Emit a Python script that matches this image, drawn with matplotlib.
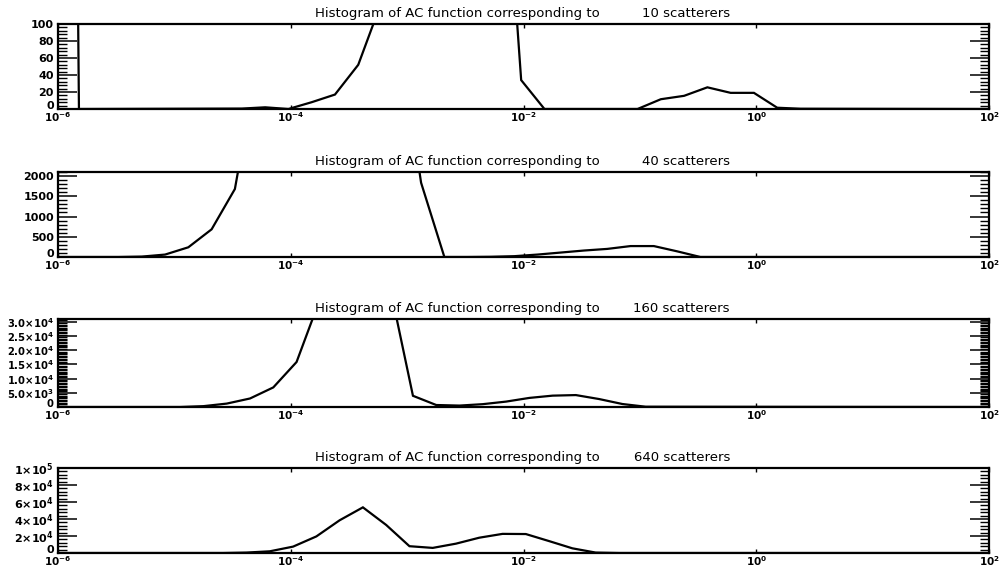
import numpy as np
import matplotlib
matplotlib.use("Agg")
import matplotlib.pyplot as plt
from matplotlib.ticker import FixedLocator, MultipleLocator, NullFormatter

# ---------------- data (log10 of AC value, histogram counts) ----------------
n_scatterers = [10, 40, 160, 640]

logx_10 = [-6.02, -5.82, -4.42, -4.22, -4.02, -3.82, -3.62, -3.42, -3.22, -3.02,
           -2.82, -2.62, -2.42, -2.22, -2.02, -1.82, -1.02, -0.82, -0.62, -0.42,
           -0.22, -0.02, 0.18, 0.38, 2.0]
counts_10 = [3000, 0, 0.5, 2, 0, 8, 17, 52, 126, 400,
             800, 1000, 900, 420, 34, 0, 0, 11.5, 15.5, 25.5,
             19, 19, 1.5, 0.3, 0]

logx_40 = [-6.0, -5.48, -5.28, -5.08, -4.88, -4.68, -4.48, -4.28, -4.08, -3.88,
           -3.68, -3.48, -3.28, -3.08, -2.88, -2.68, -2.48, -2.28, -2.08, -1.88,
           -1.68, -1.48, -1.28, -1.08, -0.88, -0.68, -0.48, 2.0]
counts_40 = [0, 0, 10, 60, 240, 684, 1680, 4900, 8000, 10000,
             11000, 10000, 8000, 5700, 1835, 0, 0, 5, 20, 60,
             110, 160, 200, 270, 270, 140, 0, 0]

logx_160 = [-6.0, -4.95, -4.75, -4.55, -4.35, -4.15, -3.95, -3.75, -3.55, -3.35,
            -3.15, -2.95, -2.75, -2.55, -2.35, -2.15, -1.95, -1.75, -1.55, -1.35,
            -1.15, -0.95, 2.0]
counts_160 = [0, 0, 300, 1200, 3000, 6900, 15850, 37900, 60000, 60000,
              42800, 3950, 700, 500, 1000, 1900, 3200, 4000, 4200, 2800,
              1050, 100, 0]

logx_640 = [-6.0, -4.58, -4.38, -4.18, -3.98, -3.78, -3.58, -3.38, -3.18, -2.98,
            -2.78, -2.58, -2.38, -2.18, -1.98, -1.78, -1.58, -1.38, -1.18, 2.0]
counts_640 = [0, 0, 500, 2000, 7500, 19500, 38500, 53700, 33000, 8000,
              6000, 11000, 18000, 22500, 22300, 14000, 5500, 500, 0, 0]

series_logx = [logx_10, logx_40, logx_160, logx_640]
series_counts = [counts_10, counts_40, counts_160, counts_640]

y_max = [100, 2100, 31000, 100000]
y_major = [20, 500, 5000, 20000]
y_minor = [4, 100, 500, 4000]
y_ticklabels = [
    ["0", "20", "40", "60", "80", "100"],
    ["0", "500", "1000", "1500", "2000"],
    ["0", r"$\mathbf{5.0{\times}10^{3}}$", r"$\mathbf{1.0{\times}10^{4}}$",
     r"$\mathbf{1.5{\times}10^{4}}$", r"$\mathbf{2.0{\times}10^{4}}$",
     r"$\mathbf{2.5{\times}10^{4}}$", r"$\mathbf{3.0{\times}10^{4}}$"],
    ["0", r"$\mathbf{2{\times}10^{4}}$", r"$\mathbf{4{\times}10^{4}}$",
     r"$\mathbf{6{\times}10^{4}}$", r"$\mathbf{8{\times}10^{4}}$",
     r"$\mathbf{1{\times}10^{5}}$"],
]
y_labelsize = [8, 8, 7.2, 8]
x_tick_exps = [-6, -4, -2, 0, 2]

# ---------------- layout ----------------
W, H = 1002, 571
fig = plt.figure(figsize=(W / 100, H / 100), dpi=100)
plt.rcParams['mathtext.fontset'] = 'dejavusans'

left_px, right_px = 58, 989
panel_px = [(24, 109), (172, 257), (319, 407), (468, 553)]

for i in range(4):
    top, bot = panel_px[i]
    ax = fig.add_axes([left_px / W, 1 - bot / H, (right_px - left_px) / W, (bot - top) / H])
    xs = [10.0 ** v for v in series_logx[i]]
    ax.plot(xs, series_counts[i], color='black', lw=1.6, solid_joinstyle='miter')
    ax.set_xscale('log')
    ax.set_xlim(1e-6, 1e2)
    ax.set_ylim(0, y_max[i])

    for s in ax.spines.values():
        s.set_linewidth(1.6)

    # x ticks
    ax.xaxis.set_major_locator(FixedLocator([10.0 ** e for e in x_tick_exps]))
    ax.set_xticklabels([r"$\mathbf{10^{%d}}$" % e for e in x_tick_exps])
    ax.xaxis.set_minor_locator(FixedLocator([]))
    ax.xaxis.set_minor_formatter(NullFormatter())
    ax.tick_params(axis='x', which='major', direction='in', length=3, width=1.0,
                   top=True, bottom=True, labelsize=7.5, pad=1)

    # y ticks
    nmaj = len(y_ticklabels[i])
    ax.yaxis.set_major_locator(FixedLocator([k * y_major[i] for k in range(nmaj)]))
    ax.set_yticklabels(y_ticklabels[i], fontweight='bold')
    ax.yaxis.set_minor_locator(MultipleLocator(y_minor[i]))
    ax.tick_params(axis='y', which='major', direction='in', length=13.5, width=1.1,
                   left=True, right=True, labelsize=y_labelsize[i], pad=3)
    ax.tick_params(axis='y', which='minor', direction='in', length=6.5, width=1.0,
                   left=True, right=True)
    # the "0" label sits on the bottom axis line, as in the original
    ax.get_yticklabels()[0].set_va('baseline')

    ax.text(0.276, 1.05, "Histogram of AC function corresponding to",
            transform=ax.transAxes, ha='left', va='bottom', fontsize=9.5)
    ax.text(0.7218, 1.05, "%d scatterers" % n_scatterers[i],
            transform=ax.transAxes, ha='right', va='bottom', fontsize=9.5)

fig.savefig("out.png", dpi=100)
